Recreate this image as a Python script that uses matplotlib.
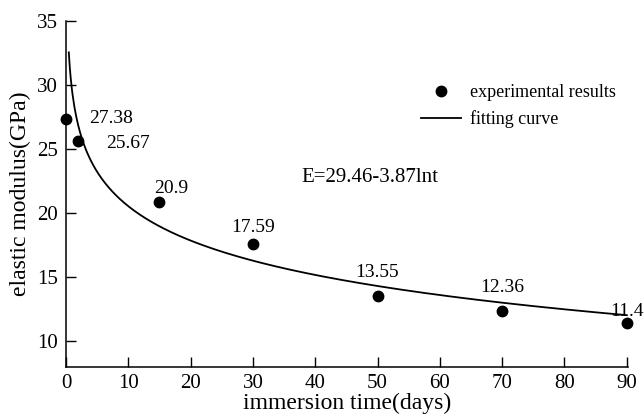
import numpy as np
import matplotlib.pyplot as plt

# measured data
days = [0, 2, 15, 30, 50, 70, 90]
modulus = [27.38, 25.67, 20.9, 17.59, 13.55, 12.36, 11.4]
value_labels = ["27.38", "25.67", "20.9", "17.59", "13.55", "12.36", "11.4"]
# label anchor positions (data coords)
label_x = [3.7, 6.4, 14.1, 30.0, 50.0, 70.0, 90.0]
label_y = [27.4, 25.45, 21.95, 18.9, 15.35, 14.2, 12.35]
label_ha = ["left", "left", "left", "center", "center", "center", "center"]

# fitted curve E = a - b*ln(t)
fit_a = 29.46
fit_b = 3.87
fit_t_start = 0.45
fit_t_end = 90

x_ticks = [0, 10, 20, 30, 40, 50, 60, 70, 80, 90]
y_ticks = [10, 15, 20, 25, 30, 35]

plt.rcParams['font.family'] = ['Liberation Serif', 'DejaVu Serif']

fig = plt.figure(figsize=(6.44, 4.16), dpi=100)
# axes box in pixels: x 66..628, y 21..367
ax = fig.add_axes([66 / 644, 1 - 367 / 416, 562 / 644, 346 / 416])

t = np.linspace(fit_t_start, fit_t_end, 600)
ax.plot(t, fit_a - fit_b * np.log(t), color='black', lw=1.3, label='fitting curve')
ax.plot(days, modulus, 'o', color='black', ms=7.5, clip_on=False,
        label='experimental results', zorder=3)

for xv, yv, txt, ha in zip(label_x, label_y, value_labels, label_ha):
    ax.text(xv, yv, txt, fontsize=14, ha=ha, va='center', clip_on=False)

ax.text(37.8, 22.8, "E=29.46-3.87lnt", fontsize=15, ha='left', va='center')

ax.set_xlim(0, 90.2)
ax.set_ylim(8, 35)
ax.set_xticks(x_ticks)
ax.set_yticks(y_ticks)
ax.tick_params(direction='in', length=7, width=1, labelsize=15)
ax.tick_params(axis='x', pad=5)
ax.tick_params(axis='y', pad=6)
ax.spines['top'].set_visible(False)
ax.spines['right'].set_visible(False)
for s in ['left', 'bottom']:
    ax.spines[s].set_linewidth(1.1)

ax.set_xlabel("immersion time(days)", fontsize=17, labelpad=0)
ax.set_ylabel("elastic modulus(GPa)", fontsize=17, labelpad=4)

handles, labels = ax.get_legend_handles_labels()
ax.legend(handles[::-1], labels[::-1], loc='upper left',
          bbox_to_anchor=((421 - 66) / 562, (367 - 84) / 346),
          frameon=False, fontsize=13, handlelength=2.2, handletextpad=0.5,
          labelspacing=0.5, borderpad=0, borderaxespad=0)

fig.savefig("out.png", dpi=100)
